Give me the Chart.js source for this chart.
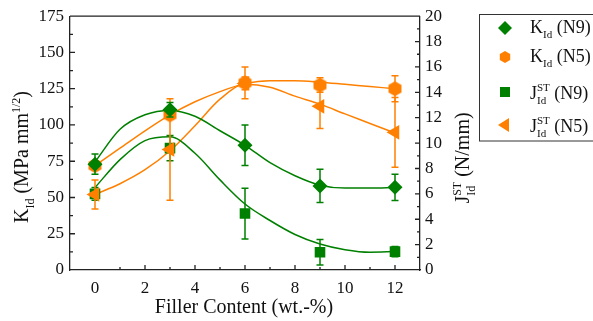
<!DOCTYPE html>
<html>
<head>
<meta charset="utf-8">
<script src="https://cdn.jsdelivr.net/npm/chart.js@4/dist/chart.umd.min.js"></script>
<style>
	body { margin: 0; background: #fff; }
	canvas { display: block; }
	.preload { font-family: 'Liberation Serif'; position: absolute; left: -999px; top: 0; }
</style>
</head>
<body>
<span class="preload">K 0123456789</span>
<canvas id="chart" width="593" height="321"></canvas>
<script>

var fillers = [0, 3, 6, 9, 12];

var kN9 = [73, 110.5, 86, 58, 57];
var kN9Err = [7, 5, 14, 11.5, 9];
var kN5 = [72, 107, 129, 127.5, 125];
var kN5Err = [3, 3, 11, 5, 9];

var jN9 = [6, 9.6, 4.45, 1.4, 1.45];
var jN9Err = [0.5, 1.0, 2.0, 1.0, 0.4];
var jN5 = [5.95, 9.5, 14.7, 12.9, 10.85];
var jN5Err = [1.15, 4, 0.5, 1.75, 2.75];

// fitted curves
var fitX = [0, 1, 2, 3, 4, 5, 6, 7, 8, 9, 10, 11, 12];
var kN9Fit = [74.5, 97, 107, 110, 106, 96, 86, 74, 65, 58.5, 56.5, 56.5, 57];
var kN5Fit = [72, 84, 96, 107, 116, 123, 128.5, 130.5, 130.5, 129.5, 128, 126.5, 125];
var jN9Fit = [6.5, 8.7, 10.2, 10.5, 9.2, 7.1, 5.2, 3.9, 2.8, 2.05, 1.6, 1.4, 1.45];
var jN5Fit = [5.96, 6.8, 7.9, 9.4, 11.37, 13.46, 14.64, 14.4, 13.7, 13.07, 12.3, 11.55, 10.8];

var xTicks = [0, 2, 4, 6, 8, 10, 12];
var kTicks = [0, 25, 50, 75, 100, 125, 150, 175];
var jTicks = [0, 2, 4, 6, 8, 10, 12, 14, 16, 18, 20];

var GREEN = '#008000';
var ORANGE = '#ff8000';
var FONT = "'Liberation Serif', 'DejaVu Serif', serif";

function pts(xs, ys) {
	return xs.map(function(x, i) { return {x: x, y: ys[i]}; });
}

// hexagon marker, Chart.js has none
function hexagon(r, color) {
	var c = document.createElement('canvas');
	c.width = c.height = r * 2 + 2;
	var g = c.getContext('2d');
	g.fillStyle = color;
	g.beginPath();
	for (var i = 0; i < 6; i++) {
		var a = Math.PI / 6 + i * Math.PI / 3;
		g.lineTo(r + 1 + r * Math.cos(a), r + 1 + r * Math.sin(a));
	}
	g.closePath();
	g.fill();
	return c;
}
var hexImg = hexagon(7.5, ORANGE);

// text with sub/superscripts: parts = [[text, kind]]
function drawRich(ctx, parts, x, y, size, dry) {
	var cx = x;
	var small = Math.round(size * 0.62) + 'px ' + FONT;
	parts.forEach(function(p) {
		var kind = p[1];
		if (kind === 'sub' || kind === 'sup') {
			ctx.font = small;
			if (!dry) ctx.fillText(p[0], cx, y + (kind === 'sub' ? size * 0.3 : -size * 0.42));
			cx += ctx.measureText(p[0]).width;
		} else if (kind === 'both') {
			ctx.font = small;
			if (!dry) {
				ctx.fillText(p[0][0], cx, y - size * 0.42);
				ctx.fillText(p[0][1], cx, y + size * 0.3);
			}
			cx += Math.max(ctx.measureText(p[0][0]).width, ctx.measureText(p[0][1]).width);
		} else {
			ctx.font = size + 'px ' + FONT;
			if (!dry) ctx.fillText(p[0], cx, y);
			cx += ctx.measureText(p[0]).width;
		}
	});
	return cx - x;
}

function drawRotated(ctx, parts, x, y, size) {
	ctx.save();
	ctx.translate(x, y);
	ctx.rotate(-Math.PI / 2);
	var w = drawRich(ctx, parts, 0, 0, size, true);
	drawRich(ctx, parts, -w / 2, 0, size);
	ctx.restore();
}

var errorBars = {
	id: 'errorBars',
	beforeDatasetDraw: function(chart, args) {
		var ds = chart.data.datasets[args.index];
		if (!ds.errors) return;
		var ctx = chart.ctx;
		var yScale = chart.scales[ds.yAxisID];
		var meta = chart.getDatasetMeta(args.index);
		ctx.save();
		ctx.strokeStyle = ds.borderColor;
		ctx.lineWidth = 1.5;
		ds.data.forEach(function(p, i) {
			var px = meta.data[i].x;
			var top = yScale.getPixelForValue(p.y + ds.errors[i]);
			var bot = yScale.getPixelForValue(p.y - ds.errors[i]);
			ctx.beginPath();
			ctx.moveTo(px, top); ctx.lineTo(px, bot);
			ctx.moveTo(px - 3.5, top); ctx.lineTo(px + 3.5, top);
			ctx.moveTo(px - 3.5, bot); ctx.lineTo(px + 3.5, bot);
			ctx.stroke();
		});
		ctx.restore();
	}
};

var frame = {
	id: 'frame',
	afterDraw: function(chart) {
		var ctx = chart.ctx;
		var a = chart.chartArea;
		var sx = chart.scales.x, sy = chart.scales.y, sj = chart.scales.y1;
		var i, p;
		ctx.save();
		ctx.strokeStyle = '#222';
		ctx.lineWidth = 1.3;
		ctx.beginPath();
		ctx.moveTo(a.left, a.top); ctx.lineTo(a.right, a.top);
		// inward ticks
		for (i = 1; i <= 12; i++) {
			p = sx.getPixelForValue(i);
			ctx.moveTo(p, a.bottom); ctx.lineTo(p, a.bottom - (i % 2 ? 3 : 5));
		}
		for (i = 1; i < 14; i++) {
			p = sy.getPixelForValue(i * 12.5);
			ctx.moveTo(a.left, p); ctx.lineTo(a.left + (i % 2 ? 3 : 5), p);
		}
		for (i = 1; i < 20; i++) {
			p = sj.getPixelForValue(i);
			ctx.moveTo(a.right, p); ctx.lineTo(a.right - (i % 2 ? 3 : 5), p);
		}
		ctx.stroke();

		// axis titles
		ctx.fillStyle = '#111';
		ctx.textBaseline = 'alphabetic';
		ctx.font = '20px ' + FONT;
		ctx.textAlign = 'center';
		ctx.fillText('Filler Content (wt.-%)', (a.left + a.right) / 2 - 1, 313);
		ctx.textAlign = 'left';
		drawRotated(ctx, [['K', ''], ['Id', 'sub'], [' (MPa mm', ''], ['1/2', 'sup'], [')', '']], 28, 157, 20);
		drawRotated(ctx, [['J', ''], [['ST', 'Id'], 'both'], [' (N/mm)', '']], 469, 158, 20);

		// legend
		ctx.strokeStyle = '#333';
		ctx.lineWidth = 1;
		ctx.strokeRect(479.5, 14.5, 130, 126.5);
		var rows = [
			{shape: 'diamond', color: GREEN, y: 28, base: 33, parts: [['K', ''], ['Id', 'sub'], [' (N9)', '']]},
			{shape: 'hex', color: ORANGE, y: 57, base: 62, parts: [['K', ''], ['Id', 'sub'], [' (N5)', '']]},
			{shape: 'square', color: GREEN, y: 92, base: 99, parts: [['J', ''], [['ST', 'Id'], 'both'], [' (N9)', '']]},
			{shape: 'tri', color: ORANGE, y: 125, base: 132, parts: [['J', ''], [['ST', 'Id'], 'both'], [' (N5)', '']]}
		];
		rows.forEach(function(r) {
			var x = 505;
			ctx.fillStyle = r.color;
			ctx.beginPath();
			if (r.shape === 'diamond') {
				ctx.moveTo(x, r.y - 7); ctx.lineTo(x + 7, r.y); ctx.lineTo(x, r.y + 7); ctx.lineTo(x - 7, r.y);
			} else if (r.shape === 'hex') {
				for (var k = 0; k < 6; k++) {
					var ang = Math.PI / 6 + k * Math.PI / 3;
					ctx.lineTo(x + 6 * Math.cos(ang), r.y + 6 * Math.sin(ang));
				}
			} else if (r.shape === 'square') {
				ctx.rect(x - 5, r.y - 5, 10, 10);
			} else {
				ctx.moveTo(x - 7, r.y); ctx.lineTo(x + 4, r.y - 7); ctx.lineTo(x + 4, r.y + 7);
			}
			ctx.closePath();
			ctx.fill();
			ctx.fillStyle = '#111';
			drawRich(ctx, r.parts, 530, r.base, 18);
		});
		ctx.restore();
	}
};

function curve(ys, color, axis) {
	return {
		type: 'line',
		data: pts(fitX, ys),
		yAxisID: axis,
		borderColor: color,
		borderWidth: 1.5,
		pointRadius: 0,
		cubicInterpolationMode: 'monotone',
		fill: false,
		order: 10
	};
}

// lower order is painted on top
function markers(ys, errs, color, axis, style, radius, order, rot) {
	return {
		type: 'scatter',
		data: pts(fillers, ys),
		errors: errs,
		yAxisID: axis,
		borderColor: color,
		backgroundColor: color,
		pointStyle: style,
		pointRadius: radius,
		pointRotation: rot || 0,
		pointBorderWidth: 0,
		showLine: false,
		order: order
	};
}

function draw() {
	var tickFont = {family: FONT, size: 17};
	Chart.defaults.font.family = FONT;

	new Chart(document.getElementById('chart'), {
		type: 'scatter',
		data: {
			datasets: [
				curve(kN9Fit, GREEN, 'y'),
				curve(kN5Fit, ORANGE, 'y'),
				curve(jN9Fit, GREEN, 'y1'),
				curve(jN5Fit, ORANGE, 'y1'),
				markers(jN9, jN9Err, GREEN, 'y1', 'rect', 7.5, 4),
				markers(jN5, jN5Err, ORANGE, 'y1', 'triangle', 8.5, 3, -90),
				markers(kN5, kN5Err, ORANGE, 'y', hexImg, 7.5, 2),
				markers(kN9, kN9Err, GREEN, 'y', 'rectRot', 7.5, 1)
			]
		},
		options: {
			responsive: false,
			devicePixelRatio: 1,
			animation: false,
			layout: {padding: {top: 15, left: 0, right: 0, bottom: 0}},
			plugins: {legend: {display: false}, tooltip: {enabled: false}},
			scales: {
				x: {
					type: 'linear', min: -1, max: 13,
					grid: {display: false, drawTicks: false},
					border: {display: true, color: '#222', width: 1.3},
					afterBuildTicks: function(s) { s.ticks = xTicks.map(function(v) { return {value: v}; }); },
					afterFit: function(s) { s.height = 51; },
					ticks: {font: tickFont, color: '#111', padding: 8, maxRotation: 0}
				},
				y: {
					position: 'left', min: 0, max: 175,
					grid: {display: false, drawTicks: false},
					border: {display: true, color: '#222', width: 1.3},
					afterBuildTicks: function(s) { s.ticks = kTicks.map(function(v) { return {value: v}; }); },
					afterFit: function(s) { s.width = 70; },
					ticks: {font: tickFont, color: '#111', padding: 6}
				},
				y1: {
					position: 'right', min: 0, max: 20,
					grid: {display: false, drawTicks: false},
					border: {display: true, color: '#222', width: 1.3},
					afterBuildTicks: function(s) { s.ticks = jTicks.map(function(v) { return {value: v}; }); },
					afterFit: function(s) { s.width = 173; },
					ticks: {font: tickFont, color: '#111', padding: 5}
				}
			}
		},
		plugins: [errorBars, frame]
	});
}

// make sure the serif face is ready before the canvas uses it
if (document.fonts && document.fonts.load) {
	Promise.all([
		document.fonts.load("16px 'Liberation Serif'"),
		document.fonts.load("16px 'DejaVu Serif'")
	]).then(draw, draw);
} else {
	draw();
}

</script>
</body>
</html>
